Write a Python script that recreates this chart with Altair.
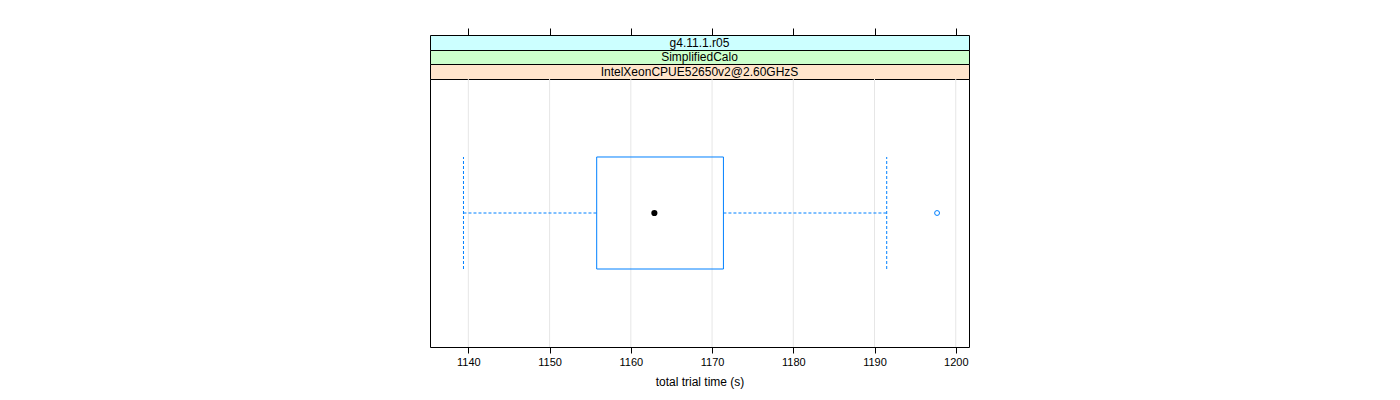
import altair as alt
import pandas as pd

# ---- data ----
strip_labels = ["g4.11.1.r05", "SimplifiedCalo", "IntelXeonCPUE52650v2@2.60GHzS"]
strip_colors = ["#ccffff", "#ccffcc", "#ffe5cc"]
tick_values = [1140, 1150, 1160, 1170, 1180, 1190, 1200]
box_lo = [1139.4]      # lower whisker end
box_q1 = [1155.8]
box_med = [1162.9]
box_q3 = [1171.4]
box_hi = [1191.5]      # upper whisker end
outliers = [1197.7]

x_domain = [1135.28, 1201.63]
W = 539
H = 268
FONT = "Liberation Sans"
BLUE = "#0080ff"

xscale = alt.Scale(domain=x_domain, nice=False, zero=False)

stats = pd.DataFrame({"lo": box_lo, "q1": box_q1, "med": box_med,
                      "q3": box_q3, "hi": box_hi})
out_df = pd.DataFrame({"v": outliers})
ticks_df = pd.DataFrame({"t": tick_values})

# ---- strips ----
strips = []
strip_heights = [15, 14, 15]
for i, (lab, col) in enumerate(zip(strip_labels, strip_colors)):
    txt = alt.Chart(pd.DataFrame({"label": [lab]})).mark_text(
        font=FONT, fontSize=12, color="black"
    ).encode(text="label:N")
    if i == 0:
        axis_layer = alt.Chart(ticks_df).mark_point(opacity=0).encode(
            x=alt.X("t:Q", scale=xscale,
                    axis=alt.Axis(orient="top", values=tick_values, labels=False,
                                  tickSize=7, tickColor="black", domain=False,
                                  grid=False, title=None))
        )
        ch = alt.layer(axis_layer, txt)
    else:
        ch = txt
    ch = ch.properties(width=W, height=strip_heights[i],
                       view=alt.ViewBackground(fill=col, stroke="black", strokeWidth=1))
    strips.append(ch)

# ---- main panel ----
yscale = alt.Scale(domain=[0, 1])
yax = None

base = alt.Chart(stats)

grid = alt.Chart(ticks_df).mark_rule(color="#e6e6e6", strokeWidth=1).encode(
    x=alt.X("t:Q", scale=xscale,
            axis=alt.Axis(values=tick_values, format="d", tickSize=6, tickColor="black",
                          domain=False, grid=False, labelFont=FONT, labelFontSize=11,
                          labelColor="black", labelPadding=3,
                          title="total trial time (s)", titleFont=FONT,
                          titleFontSize=12, titleFontWeight="normal",
                          titleColor="black", titlePadding=9)),
    y=alt.datum(0, scale=yscale, axis=yax),
    y2=alt.datum(1),
)

box = base.mark_rect(fill="white", fillOpacity=0, stroke=BLUE, strokeWidth=1).encode(
    x=alt.X("q1:Q", scale=xscale),
    x2="q3:Q",
    y=alt.datum(0.291, scale=yscale, axis=yax),
    y2=alt.datum(0.709),
)

whisk_lo = base.mark_rule(color=BLUE, strokeDash=[3, 2], strokeWidth=1).encode(
    x=alt.X("lo:Q", scale=xscale), x2="q1:Q",
    y=alt.datum(0.5, scale=yscale, axis=yax),
)
whisk_hi = base.mark_rule(color=BLUE, strokeDash=[3, 2], strokeWidth=1).encode(
    x=alt.X("q3:Q", scale=xscale), x2="hi:Q",
    y=alt.datum(0.5, scale=yscale, axis=yax),
)
cap_lo = base.mark_rule(color=BLUE, strokeDash=[3, 2], strokeWidth=1).encode(
    x=alt.X("lo:Q", scale=xscale),
    y=alt.datum(0.291, scale=yscale, axis=yax), y2=alt.datum(0.709),
)
cap_hi = base.mark_rule(color=BLUE, strokeDash=[3, 2], strokeWidth=1).encode(
    x=alt.X("hi:Q", scale=xscale),
    y=alt.datum(0.291, scale=yscale, axis=yax), y2=alt.datum(0.709),
)
med = base.mark_point(filled=True, color="black", size=38, opacity=1).encode(
    x=alt.X("med:Q", scale=xscale),
    y=alt.datum(0.5, scale=yscale, axis=yax),
)
outp = alt.Chart(out_df).mark_point(filled=False, color=BLUE, size=24,
                                    strokeWidth=1, opacity=1).encode(
    x=alt.X("v:Q", scale=xscale),
    y=alt.datum(0.5, scale=yscale, axis=yax),
)

main = alt.layer(grid, box, whisk_lo, whisk_hi, cap_lo, cap_hi, med, outp).properties(
    width=W, height=H,
    view=alt.ViewBackground(fill="white", stroke="black", strokeWidth=1),
)

chart = alt.vconcat(*strips, main, spacing=0, bounds="flush").properties(
    padding={"left": 429, "top": 27, "right": 5, "bottom": 5},
    background="white",
).configure_concat(spacing=0)

chart.save("out.html", embed_options={"renderer": "svg", "actions": False})
